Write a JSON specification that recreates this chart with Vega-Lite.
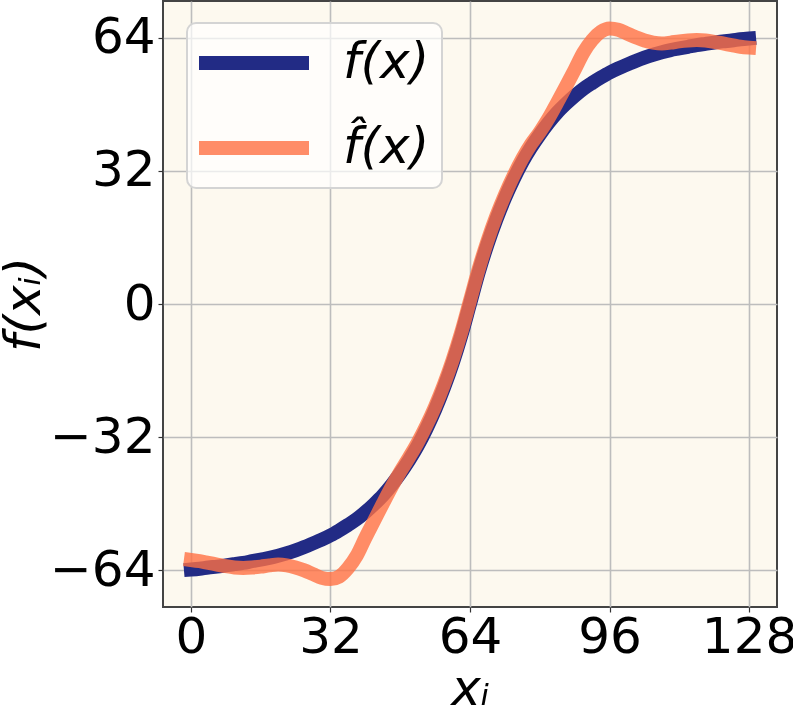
{
  "$schema": "https://vega.github.io/schema/vega-lite/v6.json",
  "width": 614,
  "height": 606,
  "autosize": {"type": "none"},
  "padding": {"left": 163, "top": 1, "right": 16, "bottom": 109},
  "background": "#ffffff",
  "config": {
    "view": {"fill": "#fdf9ef", "stroke": "#444444", "strokeWidth": 2},
    "font": "DejaVu Sans",
    "axis": {
      "labelFont": "DejaVu Sans", "labelFontSize": 50, "labelColor": "#000000",
      "titleFont": "DejaVu Sans", "titleFontSize": 50, "titleFontStyle": "italic", "titleFontWeight": "normal", "titleColor": "#000000",
      "grid": true, "gridColor": "#bdbdbd", "gridWidth": 1.6,
      "tickColor": "#333333", "tickSize": 5, "tickWidth": 1.2,
      "domain": false
    },
    "legend": {
      "orient": "none", "legendX": 24, "legendY": 22,
      "symbolType": "M-1.3333,0H3.9048", "symbolSize": 1764, "symbolStrokeWidth": 14,
      "symbolFillColor": "transparent",
      "labelFont": "DejaVu Sans", "labelFontSize": 50, "labelFontStyle": "italic", "labelColor": "#000000",
      "labelOffset": 88, "rowPadding": 29, "padding": 12,
      "fillColor": "rgba(255,255,255,0.7)", "strokeColor": "#d4d4d4", "strokeWidth": 2, "cornerRadius": 9
    }
  },
  "data": {"values": [
    {"x": 0, "y": -63.8, "series": "f"}, {"x": 2, "y": -63.6, "series": "f"}, {"x": 4, "y": -63.3, "series": "f"}, {"x": 6, "y": -63.1, "series": "f"},
    {"x": 8, "y": -62.8, "series": "f"}, {"x": 10, "y": -62.5, "series": "f"}, {"x": 12, "y": -62.2, "series": "f"}, {"x": 14, "y": -61.8, "series": "f"},
    {"x": 16, "y": -61.4, "series": "f"}, {"x": 18, "y": -61.0, "series": "f"}, {"x": 20, "y": -60.5, "series": "f"}, {"x": 22, "y": -59.9, "series": "f"},
    {"x": 24, "y": -59.2, "series": "f"}, {"x": 26, "y": -58.4, "series": "f"}, {"x": 28, "y": -57.5, "series": "f"}, {"x": 30, "y": -56.6, "series": "f"},
    {"x": 32, "y": -55.6, "series": "f"}, {"x": 34, "y": -54.4, "series": "f"}, {"x": 36, "y": -53.1, "series": "f"}, {"x": 38, "y": -51.7, "series": "f"},
    {"x": 40, "y": -50.0, "series": "f"}, {"x": 42, "y": -48.1, "series": "f"}, {"x": 44, "y": -46.0, "series": "f"}, {"x": 46, "y": -43.5, "series": "f"},
    {"x": 48, "y": -40.7, "series": "f"}, {"x": 50, "y": -37.6, "series": "f"}, {"x": 52, "y": -34.1, "series": "f"}, {"x": 54, "y": -30.0, "series": "f"},
    {"x": 56, "y": -25.4, "series": "f"}, {"x": 58, "y": -20.2, "series": "f"}, {"x": 60, "y": -14.3, "series": "f"}, {"x": 62, "y": -7.6, "series": "f"},
    {"x": 64, "y": 0.0, "series": "f"}, {"x": 66, "y": 7.6, "series": "f"}, {"x": 68, "y": 14.3, "series": "f"}, {"x": 70, "y": 20.2, "series": "f"},
    {"x": 72, "y": 25.4, "series": "f"}, {"x": 74, "y": 30.0, "series": "f"}, {"x": 76, "y": 34.1, "series": "f"}, {"x": 78, "y": 37.6, "series": "f"},
    {"x": 80, "y": 40.7, "series": "f"}, {"x": 82, "y": 43.5, "series": "f"}, {"x": 84, "y": 46.0, "series": "f"}, {"x": 86, "y": 48.1, "series": "f"},
    {"x": 88, "y": 50.0, "series": "f"}, {"x": 90, "y": 51.7, "series": "f"}, {"x": 92, "y": 53.1, "series": "f"}, {"x": 94, "y": 54.4, "series": "f"},
    {"x": 96, "y": 55.6, "series": "f"}, {"x": 98, "y": 56.6, "series": "f"}, {"x": 100, "y": 57.5, "series": "f"}, {"x": 102, "y": 58.4, "series": "f"},
    {"x": 104, "y": 59.2, "series": "f"}, {"x": 106, "y": 59.9, "series": "f"}, {"x": 108, "y": 60.5, "series": "f"}, {"x": 110, "y": 61.0, "series": "f"},
    {"x": 112, "y": 61.4, "series": "f"}, {"x": 114, "y": 61.8, "series": "f"}, {"x": 116, "y": 62.2, "series": "f"}, {"x": 118, "y": 62.5, "series": "f"},
    {"x": 120, "y": 62.8, "series": "f"}, {"x": 122, "y": 63.1, "series": "f"}, {"x": 124, "y": 63.3, "series": "f"}, {"x": 126, "y": 63.6, "series": "f"},
    {"x": 128, "y": 63.8, "series": "f"},
    {"x": 0, "y": -61.5, "series": "fhat"}, {"x": 2, "y": -61.8, "series": "fhat"}, {"x": 4, "y": -62.2, "series": "fhat"}, {"x": 6, "y": -62.6, "series": "fhat"},
    {"x": 8, "y": -63.0, "series": "fhat"}, {"x": 10, "y": -63.3, "series": "fhat"}, {"x": 12, "y": -63.4, "series": "fhat"}, {"x": 14, "y": -63.3, "series": "fhat"},
    {"x": 16, "y": -63.1, "series": "fhat"}, {"x": 18, "y": -62.8, "series": "fhat"}, {"x": 20, "y": -62.6, "series": "fhat"}, {"x": 22, "y": -62.8, "series": "fhat"},
    {"x": 24, "y": -63.3, "series": "fhat"}, {"x": 26, "y": -64.0, "series": "fhat"}, {"x": 28, "y": -64.9, "series": "fhat"}, {"x": 30, "y": -65.8, "series": "fhat"},
    {"x": 32, "y": -66.1, "series": "fhat"}, {"x": 34, "y": -65.5, "series": "fhat"}, {"x": 36, "y": -63.5, "series": "fhat"}, {"x": 38, "y": -60.5, "series": "fhat"},
    {"x": 40, "y": -56.2, "series": "fhat"}, {"x": 42, "y": -52.1, "series": "fhat"}, {"x": 44, "y": -48.0, "series": "fhat"}, {"x": 46, "y": -44.0, "series": "fhat"},
    {"x": 48, "y": -40.3, "series": "fhat"}, {"x": 50, "y": -36.9, "series": "fhat"}, {"x": 52, "y": -33.3, "series": "fhat"}, {"x": 54, "y": -29.2, "series": "fhat"},
    {"x": 56, "y": -24.6, "series": "fhat"}, {"x": 58, "y": -19.4, "series": "fhat"}, {"x": 60, "y": -13.5, "series": "fhat"}, {"x": 62, "y": -6.8, "series": "fhat"},
    {"x": 64, "y": 0.8, "series": "fhat"}, {"x": 66, "y": 8.4, "series": "fhat"}, {"x": 68, "y": 15.1, "series": "fhat"}, {"x": 70, "y": 21.0, "series": "fhat"},
    {"x": 72, "y": 26.2, "series": "fhat"}, {"x": 74, "y": 30.8, "series": "fhat"}, {"x": 76, "y": 34.9, "series": "fhat"}, {"x": 78, "y": 38.4, "series": "fhat"},
    {"x": 80, "y": 41.3, "series": "fhat"}, {"x": 82, "y": 44.6, "series": "fhat"}, {"x": 84, "y": 48.4, "series": "fhat"}, {"x": 86, "y": 52.3, "series": "fhat"},
    {"x": 88, "y": 56.3, "series": "fhat"}, {"x": 90, "y": 60.4, "series": "fhat"}, {"x": 92, "y": 63.4, "series": "fhat"}, {"x": 94, "y": 65.4, "series": "fhat"},
    {"x": 96, "y": 66.2, "series": "fhat"}, {"x": 98, "y": 65.9, "series": "fhat"}, {"x": 100, "y": 65.0, "series": "fhat"}, {"x": 102, "y": 64.1, "series": "fhat"},
    {"x": 104, "y": 63.3, "series": "fhat"}, {"x": 106, "y": 62.8, "series": "fhat"}, {"x": 108, "y": 62.6, "series": "fhat"}, {"x": 110, "y": 62.8, "series": "fhat"},
    {"x": 112, "y": 63.1, "series": "fhat"}, {"x": 114, "y": 63.3, "series": "fhat"}, {"x": 116, "y": 63.4, "series": "fhat"}, {"x": 118, "y": 63.3, "series": "fhat"},
    {"x": 120, "y": 63.0, "series": "fhat"}, {"x": 122, "y": 62.6, "series": "fhat"}, {"x": 124, "y": 62.2, "series": "fhat"}, {"x": 126, "y": 61.8, "series": "fhat"},
    {"x": 128, "y": 61.6, "series": "fhat"}
  ]},
  "mark": {"type": "line", "strokeWidth": 14, "strokeCap": "square", "interpolate": "monotone", "clip": true},
  "encoding": {
    "x": {
      "field": "x", "type": "quantitative",
      "scale": {"domain": [-6.4, 134.4], "nice": false, "zero": false},
      "axis": {"values": [0, 32, 64, 96, 128], "title": "x\u1d62", "labelPadding": 0, "titlePadding": 2}
    },
    "y": {
      "field": "y", "type": "quantitative",
      "scale": {"domain": [-72.8, 72.8], "nice": false, "zero": false},
      "axis": {"values": [-64, -32, 0, 32, 64], "title": "f(x\u1d62)", "labelPadding": 3, "titlePadding": 0}
    },
    "color": {
      "field": "series", "type": "nominal",
      "scale": {"domain": ["f", "fhat"], "range": ["#222b85", "rgba(255,112,67,0.8)"]},
      "legend": {"title": null, "labelExpr": "datum.value == 'f' ? 'f(x)' : 'f\u0302(x)'"}
    }
  }
}
